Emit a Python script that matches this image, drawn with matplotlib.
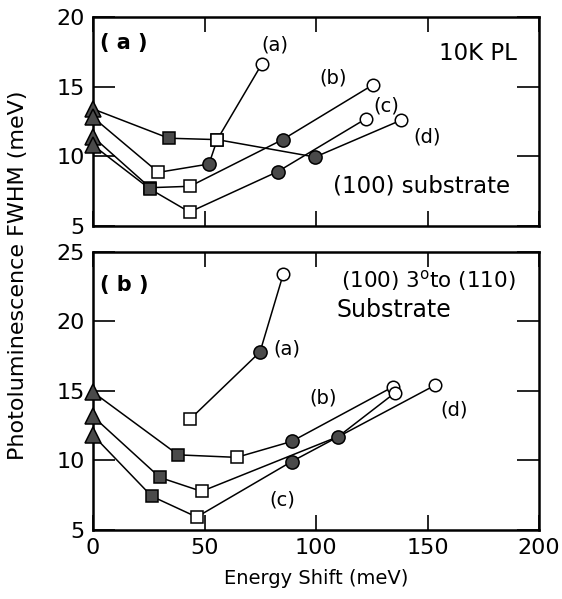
import matplotlib
matplotlib.use('Agg')
import matplotlib.pyplot as plt

plt.rcParams['font.family'] = ['DejaVu Sans']

# ---- data (energy shift meV, FWHM meV) ----
# point kinds: tri = starting layer, fsq/osq = filled/open square,
# fcirc/ocirc = filled/open circle
top_a_x = [0, 29.3, 52.0, 55.7, 75.6]
top_a_y = [12.8, 8.85, 9.45, 11.2, 16.6]
top_a_k = ['tri', 'osq', 'fcirc', 'osq', 'ocirc']

top_b_x = [0, 25.6, 43.5, 85.0, 125.7]
top_b_y = [11.4, 7.75, 7.85, 11.2, 15.15]
top_b_k = ['tri', 'fsq', 'osq', 'fcirc', 'ocirc']

top_c_x = [0, 25.6, 43.3, 82.8, 122.4]
top_c_y = [10.8, 7.65, 6.0, 8.9, 12.7]
top_c_k = ['tri', 'fsq', 'osq', 'fcirc', 'ocirc']

top_d_x = [0, 34.0, 55.7, 99.6, 138.2]
top_d_y = [13.4, 11.3, 11.2, 9.95, 12.6]
top_d_k = ['tri', 'fsq', 'osq', 'fcirc', 'ocirc']

bot_a_x = [43.5, 74.9, 85.3]
bot_a_y = [12.95, 17.8, 23.4]
bot_a_k = ['osq', 'fcirc', 'ocirc']

bot_b_x = [0, 38.2, 64.4, 89.1, 134.7]
bot_b_y = [14.9, 10.38, 10.2, 11.35, 15.3]
bot_b_k = ['tri', 'fsq', 'osq', 'fcirc', 'ocirc']

bot_c_x = [0, 26.3, 46.5, 89.1, 153.4]
bot_c_y = [11.8, 7.4, 5.9, 9.9, 15.4]
bot_c_k = ['tri', 'fsq', 'osq', 'fcirc', 'ocirc']

bot_d_x = [0, 30.0, 48.7, 110.0, 135.4]
bot_d_y = [13.15, 8.75, 7.75, 11.7, 14.85]
bot_d_k = ['tri', 'fsq', 'osq', 'fcirc', 'ocirc']

x_ticks = [0, 50, 100, 150, 200]
top_yticks = [5, 10, 15, 20]
bot_yticks = [5, 10, 15, 20, 25]

# marker styles
dark = '#4a4a4a'
styles = {
    'tri':   dict(marker='^', ms=11, mfc=dark, mec='k'),
    'fsq':   dict(marker='s', ms=8, mfc=dark, mec='k'),
    'osq':   dict(marker='s', ms=8, mfc='white', mec='k'),
    'fcirc': dict(marker='o', ms=9.5, mfc=dark, mec='k'),
    'ocirc': dict(marker='o', ms=9, mfc='white', mec='k'),
}


def curve(ax, xs, ys, kinds):
    ax.plot(xs, ys, '-', color='k', lw=1.1, zorder=2)
    for x, y, k in zip(xs, ys, kinds):
        ax.plot([x], [y], ls='none', mew=1.1, clip_on=False, zorder=3, **styles[k])


def frame(ax, yticks, ylim):
    ax.set_xlim(0, 200)
    ax.set_ylim(*ylim)
    ax.set_xticks(x_ticks)
    ax.set_yticks(yticks)
    ax.tick_params(axis='both', direction='in', top=True, right=True,
                   width=1.2, labelsize=16, pad=6)
    ax.tick_params(axis='y', length=16)
    ax.tick_params(axis='x', length=11)
    for s in ax.spines.values():
        s.set_linewidth(1.8)


fig = plt.figure(figsize=(5.62, 5.99), dpi=100)
ax1 = fig.add_axes([0.1655, 0.6227, 0.7936, 0.3489])
ax2 = fig.add_axes([0.1655, 0.1160, 0.7936, 0.4633])

# top panel
frame(ax1, top_yticks, (5, 20))
ax1.tick_params(axis='x', labelbottom=False)
curve(ax1, top_d_x, top_d_y, top_d_k)
curve(ax1, top_a_x, top_a_y, top_a_k)
curve(ax1, top_b_x, top_b_y, top_b_k)
curve(ax1, top_c_x, top_c_y, top_c_k)
ax1.text(3, 18.1, '( a )', fontsize=15, fontweight='bold', va='center')
ax1.text(81.5, 18.0, '(a)', fontsize=14, ha='center', va='center')
ax1.text(107.5, 15.6, '(b)', fontsize=14, ha='center', va='center')
ax1.text(131.5, 13.6, '(c)', fontsize=14, ha='center', va='center')
ax1.text(150, 11.4, '(d)', fontsize=14, ha='center', va='center')
ax1.text(190, 17.4, '10K PL', fontsize=16.5, ha='right', va='center')
ax1.text(187, 7.9, '(100) substrate', fontsize=16.5, ha='right', va='center')

# bottom panel
frame(ax2, bot_yticks, (5, 25))
curve(ax2, bot_a_x, bot_a_y, bot_a_k)
curve(ax2, bot_b_x, bot_b_y, bot_b_k)
curve(ax2, bot_d_x, bot_d_y, bot_d_k)
curve(ax2, bot_c_x, bot_c_y, bot_c_k)
ax2.text(3, 22.6, '( b )', fontsize=15, fontweight='bold', va='center')
ax2.text(87, 18.0, '(a)', fontsize=14, ha='center', va='center')
ax2.text(103, 14.5, '(b)', fontsize=14, ha='center', va='center')
ax2.text(85, 7.1, '(c)', fontsize=14, ha='center', va='center')
ax2.text(162, 13.6, '(d)', fontsize=14, ha='center', va='center')
ax2.text(111, 22.95, '(100) 3$^{\\rm o}$to (110)', fontsize=15.5, ha='left', va='center')
ax2.text(109, 20.8, 'Substrate', fontsize=17, ha='left', va='center')
ax2.set_xlabel('Energy Shift (meV)', fontsize=14, labelpad=8)

fig.text(0.032, 0.54, 'Photoluminescence FWHM (meV)', rotation=90,
         fontsize=16, ha='center', va='center')

fig.savefig('out.png', dpi=100)
